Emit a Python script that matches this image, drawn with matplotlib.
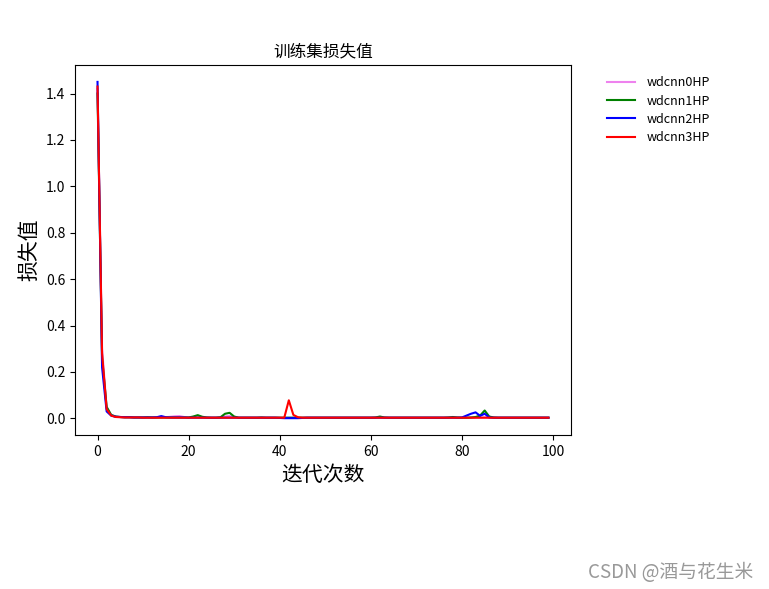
import matplotlib
matplotlib.use("Agg")
import matplotlib.pyplot as plt

plt.rcParams['font.family'] = ['Noto Sans CJK SC', 'DejaVu Sans']
plt.rcParams['axes.unicode_minus'] = False

epochs = list(range(100))

loss_0hp = [1.42, 0.30, 0.045, 0.015, 0.008, 0.006, 0.005, 0.005, 0.004, 0.004,
            0.004, 0.004, 0.004, 0.004, 0.004, 0.005, 0.007, 0.009, 0.010, 0.006,
            0.004, 0.004, 0.005, 0.004, 0.003, 0.003, 0.003, 0.004, 0.008, 0.010,
            0.005, 0.003, 0.003, 0.003, 0.003, 0.003, 0.003, 0.003, 0.003, 0.003,
            0.003, 0.003, 0.003, 0.003, 0.003, 0.003, 0.003, 0.003, 0.003, 0.003,
            0.003, 0.003, 0.003, 0.003, 0.003, 0.003, 0.003, 0.003, 0.003, 0.003,
            0.003, 0.003, 0.004, 0.003, 0.003, 0.003, 0.003, 0.003, 0.003, 0.003,
            0.003, 0.003, 0.003, 0.003, 0.003, 0.003, 0.003, 0.003, 0.004, 0.003,
            0.003, 0.003, 0.003, 0.003, 0.003, 0.004, 0.003, 0.003, 0.003, 0.003,
            0.003, 0.003, 0.003, 0.003, 0.003, 0.003, 0.003, 0.003, 0.003, 0.003]

loss_1hp = [1.40, 0.26, 0.050, 0.015, 0.008, 0.006, 0.005, 0.005, 0.004, 0.004,
            0.004, 0.005, 0.004, 0.004, 0.004, 0.004, 0.004, 0.004, 0.004, 0.004,
            0.004, 0.008, 0.014, 0.007, 0.004, 0.003, 0.003, 0.005, 0.020, 0.024,
            0.008, 0.003, 0.003, 0.003, 0.003, 0.003, 0.004, 0.003, 0.003, 0.003,
            0.003, 0.003, 0.003, 0.003, 0.003, 0.003, 0.003, 0.003, 0.003, 0.003,
            0.003, 0.003, 0.003, 0.003, 0.003, 0.003, 0.003, 0.003, 0.003, 0.003,
            0.003, 0.004, 0.008, 0.004, 0.003, 0.003, 0.003, 0.003, 0.003, 0.003,
            0.003, 0.003, 0.003, 0.003, 0.003, 0.003, 0.003, 0.004, 0.006, 0.004,
            0.003, 0.003, 0.004, 0.006, 0.012, 0.034, 0.008, 0.004, 0.003, 0.003,
            0.003, 0.003, 0.003, 0.003, 0.003, 0.003, 0.003, 0.003, 0.003, 0.003]

loss_2hp = [1.45, 0.22, 0.030, 0.012, 0.007, 0.006, 0.005, 0.005, 0.004, 0.004,
            0.004, 0.004, 0.004, 0.005, 0.010, 0.005, 0.004, 0.004, 0.004, 0.004,
            0.003, 0.003, 0.003, 0.003, 0.003, 0.003, 0.003, 0.003, 0.003, 0.003,
            0.003, 0.003, 0.003, 0.003, 0.003, 0.003, 0.003, 0.003, 0.003, 0.003,
            0.002, 0.001, 0.001, 0.001, 0.001, 0.002, 0.003, 0.003, 0.003, 0.003,
            0.003, 0.003, 0.003, 0.003, 0.003, 0.003, 0.003, 0.003, 0.003, 0.003,
            0.003, 0.003, 0.003, 0.003, 0.003, 0.003, 0.003, 0.003, 0.003, 0.003,
            0.003, 0.003, 0.003, 0.003, 0.003, 0.003, 0.003, 0.003, 0.003, 0.003,
            0.004, 0.012, 0.020, 0.026, 0.011, 0.020, 0.004, 0.003, 0.003, 0.003,
            0.003, 0.003, 0.003, 0.003, 0.003, 0.003, 0.003, 0.003, 0.003, 0.003]

loss_3hp = [1.43, 0.28, 0.040, 0.012, 0.006, 0.005, 0.004, 0.004, 0.004, 0.004,
            0.003, 0.003, 0.003, 0.003, 0.003, 0.003, 0.003, 0.003, 0.003, 0.003,
            0.003, 0.003, 0.003, 0.003, 0.003, 0.003, 0.003, 0.003, 0.003, 0.003,
            0.003, 0.003, 0.003, 0.003, 0.003, 0.003, 0.003, 0.003, 0.003, 0.003,
            0.003, 0.003, 0.078, 0.015, 0.005, 0.003, 0.003, 0.003, 0.003, 0.003,
            0.003, 0.003, 0.003, 0.003, 0.003, 0.003, 0.003, 0.003, 0.003, 0.003,
            0.003, 0.003, 0.003, 0.003, 0.003, 0.003, 0.003, 0.003, 0.003, 0.003,
            0.003, 0.003, 0.003, 0.003, 0.003, 0.003, 0.003, 0.003, 0.003, 0.003,
            0.003, 0.003, 0.003, 0.003, 0.003, 0.003, 0.003, 0.003, 0.003, 0.003,
            0.003, 0.003, 0.003, 0.003, 0.003, 0.003, 0.003, 0.003, 0.003, 0.003]

series = [("wdcnn0HP", loss_0hp, "violet"),
          ("wdcnn1HP", loss_1hp, "green"),
          ("wdcnn2HP", loss_2hp, "blue"),
          ("wdcnn3HP", loss_3hp, "red")]

fig = plt.figure(figsize=(7.69, 5.89), dpi=100)
ax = fig.add_axes([0.0975, 0.2615, 0.645, 0.628])

for name, values, color in series:
    ax.plot(epochs, values, color=color, label=name)

ax.set_title("训练集损失值", fontsize=12)
ax.set_xlabel("迭代次数", fontsize=15)
ax.set_ylabel("损失值", fontsize=15)
ax.legend(loc="upper left", bbox_to_anchor=(1.05, 1.0), frameon=False,
          fontsize=9, labelspacing=0.42, handlelength=2.2, handletextpad=1.0)

fig.text(0.98, 0.01, "CSDN @酒与花生米", ha="right", va="bottom",
         color="#999999", fontsize=13.5)

fig.savefig("out.png", dpi=100)
